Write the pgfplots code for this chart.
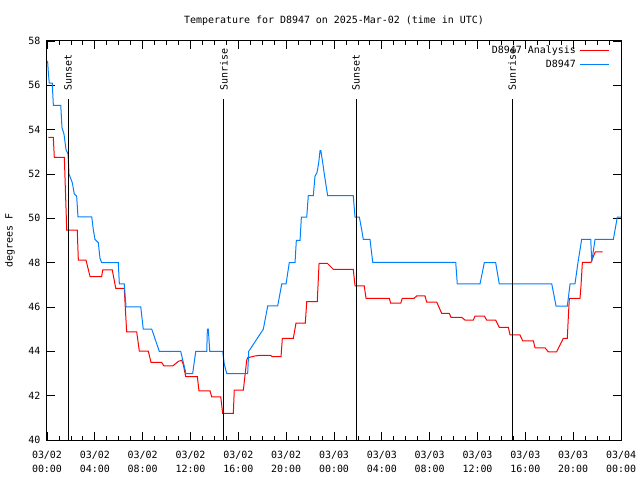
\documentclass[border=0pt]{standalone}
\usepackage{fontspec}
\setmainfont{DejaVu Sans Mono}
\usepackage{pgfplots}
\pgfplotsset{compat=1.18}
\usetikzlibrary{calc}
\definecolor{obsblue}{RGB}{0,128,255}
\definecolor{anared}{RGB}{255,0,0}
\begin{document}
\begin{tikzpicture}
\begin{axis}[
  scale only axis, width=574bp, height=399bp,
  xmin=0, xmax=48, ymin=40, ymax=58,
  xtick={0,4,...,48},
  xticklabels={{03/02\\00:00},{03/02\\04:00},{03/02\\08:00},{03/02\\12:00},{03/02\\16:00},{03/02\\20:00},{03/03\\00:00},{03/03\\04:00},{03/03\\08:00},{03/03\\12:00},{03/03\\16:00},{03/03\\20:00},{03/04\\00:00}},
  xticklabel style={align=center, font=\fontsize{10}{14}\selectfont, yshift=-8bp},
  yticklabel style={xshift=-3bp},
  minor x tick num=3,
  ytick={40,42,...,58},
  tick align=inside,
  major tick length=8bp, minor tick length=4bp,
  every tick/.style={black, line width=0.8bp},
  axis line style={line width=1bp},
  /pgf/number format/assume math mode=true,
  tick label style={font=\fontsize{10}{12}\selectfont},
  title={Temperature for D8947 on 2025-Mar-02 (time in UTC)},
  title style={at={(axis description cs:0.5,1)}, anchor=center, yshift=14.5bp, font=\fontsize{10}{12}\selectfont},
  ylabel={degrees F},
  ylabel style={at={(axis description cs:-0.0645,0.5)}, anchor=center, font=\fontsize{10}{12}\selectfont},
  legend plot pos=right,
  legend cell align=right,
  legend image code/.code={\draw[#1] plot coordinates {(0bp,0bp) (14.5bp,0bp) (29bp,0bp)};},
  legend style={at={(axis description cs:1,1)}, anchor=north east, xshift=-8bp, yshift=-1bp, draw=none, fill=none, font=\fontsize{10}{12}\selectfont, row sep=0.5bp, column sep=2bp},
]
\addplot[anared, line width=1bp] coordinates {
(0.11,53.65) (0.53,53.65) (0.61,52.75) (1.45,52.75) (1.65,49.47) (2.53,49.47) (2.62,48.12) (3.26,48.12) (3.60,47.37) (4.57,47.37) (4.66,47.67) (5.46,47.67) (5.75,46.84) (6.46,46.84) (6.66,44.88) (7.50,44.88) (7.72,44.01) (8.47,44.01) (8.70,43.50) (9.59,43.50) (9.78,43.34) (10.51,43.34) (11.00,43.55) (11.26,43.60) (11.40,43.40) (11.60,42.86) (12.57,42.86) (12.71,42.22) (13.63,42.22) (13.77,41.95) (14.53,41.95) (14.69,41.20) (15.58,41.20) (15.66,42.25) (16.42,42.25) (16.70,43.60) (16.78,43.71) (17.39,43.79) (17.81,43.82) (18.71,43.82) (18.80,43.76) (19.57,43.76) (19.68,44.59) (20.60,44.59) (20.82,45.27) (21.60,45.27) (21.72,46.24) (22.60,46.24) (22.75,47.97) (23.44,47.97) (23.94,47.70) (25.61,47.70) (25.76,46.95) (26.53,46.95) (26.68,46.39) (28.63,46.39) (28.74,46.17) (29.58,46.17) (29.71,46.39) (30.69,46.39) (30.92,46.50) (31.61,46.50) (31.75,46.22) (32.59,46.22) (33.01,45.71) (33.64,45.71) (33.79,45.53) (34.68,45.53) (34.96,45.41) (35.65,45.41) (35.79,45.59) (36.57,45.59) (36.77,45.41) (37.52,45.41) (37.82,45.08) (38.58,45.08) (38.72,44.74) (39.55,44.74) (39.78,44.47) (40.67,44.47) (40.81,44.16) (41.65,44.16) (41.92,43.98) (42.62,43.98) (43.18,44.59) (43.51,44.59) (43.60,45.60) (43.68,46.39) (44.57,46.39) (44.66,47.00) (44.77,48.01) (45.49,48.01) (45.63,48.20) (45.85,48.49) (46.47,48.49)
};
\addlegendentry{D8947 Analysis}
\addplot[obsblue, line width=1bp] coordinates {
(0.05,57.10) (0.11,56.60) (0.19,56.10) (0.44,56.10) (0.53,55.10) (1.15,55.10) (1.25,54.10) (1.42,53.80) (1.59,53.10) (1.76,52.90) (1.84,52.00) (2.12,51.60) (2.28,51.10) (2.48,51.00) (2.59,50.07) (3.74,50.07) (3.87,49.50) (4.01,49.05) (4.29,48.90) (4.43,48.20) (4.57,48.00) (5.96,48.00) (6.05,47.04) (6.46,47.04) (6.61,46.00) (7.84,46.00) (8.05,45.00) (8.76,45.00) (9.39,44.00) (11.18,44.00) (11.62,43.00) (12.18,43.00) (12.44,44.00) (13.36,44.00) (13.41,45.00) (13.49,45.00) (13.61,44.00) (14.69,44.00) (14.83,43.40) (15.03,43.00) (16.78,43.00) (16.87,44.00) (18.09,45.00) (18.46,46.05) (19.29,46.05) (19.63,47.04) (19.99,47.04) (20.26,48.00) (20.74,48.00) (20.85,49.00) (21.16,49.00) (21.27,50.05) (21.72,50.05) (21.85,51.02) (22.27,51.02) (22.41,51.90) (22.58,52.07) (22.72,52.50) (22.83,53.05) (22.90,53.05) (23.06,52.50) (23.16,52.10) (23.47,51.02) (25.61,51.02) (25.76,50.05) (26.12,50.05) (26.32,49.47) (26.45,49.05) (27.01,49.05) (27.24,48.01) (34.18,48.01) (34.31,47.04) (36.21,47.04) (36.57,48.00) (37.52,48.00) (37.82,47.04) (42.21,47.04) (42.57,46.04) (43.51,46.04) (43.74,47.04) (44.15,47.04) (44.40,48.00) (44.71,49.05) (45.47,49.05) (45.55,48.04) (45.83,49.05) (47.36,49.05) (47.69,50.05) (48.00,50.05)
};
\addlegendentry{D8947}
\addplot[black, line width=1bp, forget plot] coordinates {(1.76,40) (1.76,55.38)};
\addplot[black, line width=1bp, forget plot] coordinates {(14.80,40) (14.80,55.38)};
\addplot[black, line width=1bp, forget plot] coordinates {(25.84,40) (25.84,55.38)};
\addplot[black, line width=1bp, forget plot] coordinates {(38.89,40) (38.89,55.38)};
\node[rotate=90, anchor=west, inner sep=0pt, xshift=1.5bp, font=\fontsize{10}{12}\selectfont] at (axis cs:1.76,55.71) {Sunset};
\node[rotate=90, anchor=west, inner sep=0pt, xshift=1.5bp, font=\fontsize{10}{12}\selectfont] at (axis cs:14.80,55.71) {Sunrise};
\node[rotate=90, anchor=west, inner sep=0pt, xshift=1.5bp, font=\fontsize{10}{12}\selectfont] at (axis cs:25.84,55.71) {Sunset};
\node[rotate=90, anchor=west, inner sep=0pt, xshift=1.5bp, font=\fontsize{10}{12}\selectfont] at (axis cs:38.89,55.71) {Sunrise};
\end{axis}
\useasboundingbox ($(current axis.south west)+(-47bp,-40bp)$) rectangle ($(current axis.north east)+(19bp,41bp)$);
\end{tikzpicture}
\end{document}
